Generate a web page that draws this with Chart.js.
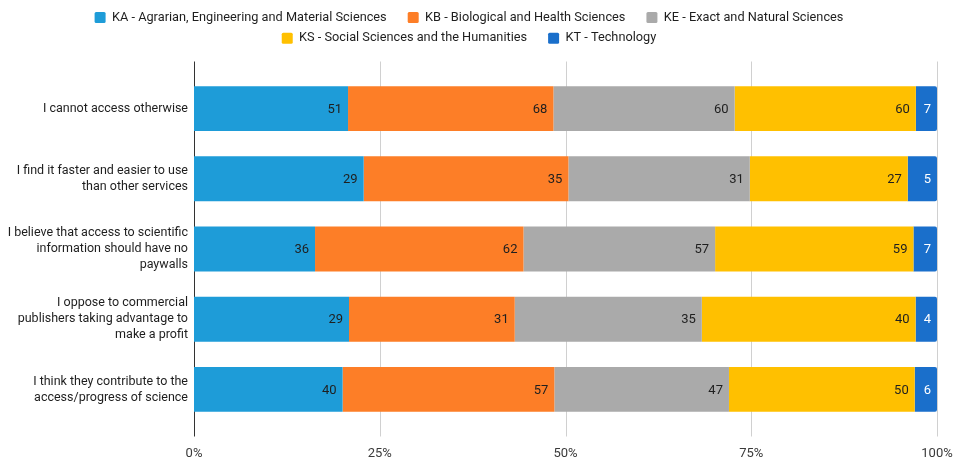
<!DOCTYPE html>
<html>
<head>
<meta charset="utf-8">
<script src="https://cdn.jsdelivr.net/npm/chart.js@4.4.1/dist/chart.umd.min.js"></script>
<style>
  html, body { margin: 0; padding: 0; background: #ffffff; }
  #wrap { width: 954px; height: 461px; position: relative; }
</style>
</head>
<body>
<div id="wrap"><canvas id="chart" width="954" height="461"></canvas></div>
<script>
// Reasons for using the service, responses counted per knowledge area
const categories = [
  "I cannot access otherwise",
  ["I find it faster and easier to use", "than other services"],
  ["I believe that access to scientific", "information should have no", "paywalls"],
  ["I oppose to commercial", "publishers taking advantage to", "make a profit"],
  ["I think they contribute to the", "access/progress of science"]
];
const seriesNames = [
  "KA - Agrarian, Engineering and Material Sciences",
  "KB - Biological and Health Sciences",
  "KE - Exact and Natural Sciences",
  "KS - Social Sciences and the Humanities",
  "KT - Technology"
];
const kaCounts = [51, 29, 36, 29, 40];
const kbCounts = [68, 35, 62, 31, 57];
const keCounts = [60, 31, 57, 35, 47];
const ksCounts = [60, 27, 59, 40, 50];
const ktCounts = [7, 5, 7, 4, 6];
const tickValues = [0, 25, 50, 75, 100];

const seriesColors = ["#1e9cd8", "#fd7e27", "#aaaaaa", "#ffc000", "#1a6fcb"];
const labelColors = ["#1f1f1f", "#1f1f1f", "#1f1f1f", "#1f1f1f", "#ffffff"];
const allCounts = [kaCounts, kbCounts, keCounts, ksCounts, ktCounts];

// each row is shown as shares of its own total (100% stacked)
const rowTotals = categories.map((_, i) => allCounts.reduce((s, arr) => s + arr[i], 0));
const datasets = allCounts.map((arr, k) => ({
  label: seriesNames[k],
  data: arr.map((v, i) => v / rowTotals[i] * 100),
  counts: arr,
  backgroundColor: seriesColors[k],
  borderWidth: 0,
  borderRadius: k === allCounts.length - 1 ? 2 : 0,
  categoryPercentage: 0.64,
  barPercentage: 1.0
}));

const FONT = "Roboto";
const PLOT_TOP = 73.5;   // top edge of the category band area
const LAYOUT_TOP = 3;
const PLOT_LEFT = 194;
const LEGEND_LEFT = 14;  // legend is centred a bit right of the canvas middle

// keep a fixed gap between the legend and the bars, and nudge the legend block
const legendSpacer = {
  id: "legendSpacer",
  beforeLayout(chart) {
    const lg = chart.legend;
    if (lg && !lg._spacerWrapped) {
      const fit = lg.fit.bind(lg);
      lg.fit = function () {
        fit();
        this.height = PLOT_TOP - LAYOUT_TOP;
      };
      lg._spacerWrapped = true;
    }
  },
  beforeDraw(chart) {
    if (chart.legend) chart.legend.left = LEGEND_LEFT;
  }
};

// vertical grid lines, reaching a little past the bars above and below
const gridPlugin = {
  id: "gridLines",
  beforeDatasetsDraw(chart) {
    const { ctx, chartArea, scales } = chart;
    const ext = 12;
    ctx.save();
    tickValues.forEach(v => {
      const x = Math.round(scales.x.getPixelForValue(v)) + 0.5;
      ctx.beginPath();
      ctx.strokeStyle = v === 0 ? "#333333" : "#d0d0d0";
      ctx.lineWidth = 1;
      ctx.moveTo(x, chartArea.top - ext);
      ctx.lineTo(x, chartArea.bottom + ext);
      ctx.stroke();
    });
    ctx.restore();
  }
};

// counts written inside the end of each segment
const valueLabelPlugin = {
  id: "valueLabels",
  afterDatasetsDraw(chart) {
    const { ctx } = chart;
    ctx.save();
    ctx.font = "13px " + FONT;
    ctx.textAlign = "right";
    ctx.textBaseline = "middle";
    chart.data.datasets.forEach((ds, k) => {
      const meta = chart.getDatasetMeta(k);
      meta.data.forEach((bar, i) => {
        ctx.fillStyle = labelColors[k];
        ctx.fillText(String(ds.counts[i]), bar.x - 6, bar.y + 1);
      });
    });
    ctx.restore();
  }
};

new Chart(document.getElementById("chart"), {
  type: "bar",
  data: { labels: categories, datasets },
  options: {
    indexAxis: "y",
    responsive: false,
    animation: false,
    layout: { padding: { top: LAYOUT_TOP, right: 17, bottom: 0, left: 0 } },
    plugins: {
      legend: {
        position: "top",
        align: "center",
        labels: {
          font: { family: FONT, size: 12.75 },
          color: "#1e1e1e",
          boxWidth: 11,
          boxHeight: 11,
          padding: 8,
          useBorderRadius: true,
          borderRadius: 1.5,
          generateLabels(chart) {
            const items = Chart.defaults.plugins.legend.labels.generateLabels(chart);
            // a little extra room after each entry's text
            items.forEach(it => { it.text = it.text + "\u2002\u2002"; });
            return items;
          }
        }
      },
      tooltip: { enabled: false }
    },
    scales: {
      x: {
        stacked: true,
        min: 0,
        max: 100,
        afterBuildTicks(scale) { scale.ticks = tickValues.map(v => ({ value: v })); },
        ticks: {
          font: { family: FONT, size: 13 },
          color: "#3a3a3a",
          padding: 21,
          maxRotation: 0,
          callback: v => v + "%"
        },
        grid: { display: false, drawTicks: false },
        border: { display: false },
        afterFit(scale) {
          scale.height = 36.5;
          // end tick labels may hang past the plot edges
          scale.paddingLeft = 0;
          scale.paddingRight = 0;
        }
      },
      y: {
        stacked: true,
        ticks: {
          font: { family: FONT, size: 12.5, lineHeight: "16px" },
          color: "#1e1e1e",
          padding: 6,
          crossAlign: "near"
        },
        grid: { display: false, drawTicks: false },
        border: { display: false },
        afterFit(scale) { scale.width = PLOT_LEFT; }
      }
    }
  },
  plugins: [legendSpacer, gridPlugin, valueLabelPlugin]
});
</script>
</body>
</html>
